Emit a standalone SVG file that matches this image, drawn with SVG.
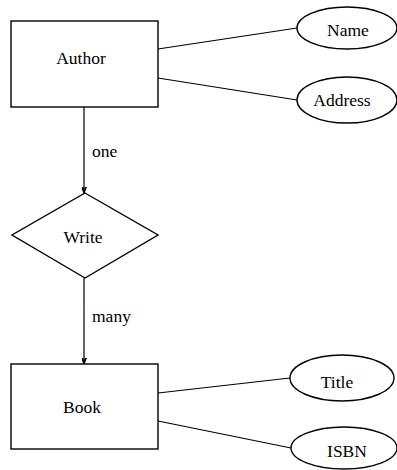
<svg xmlns="http://www.w3.org/2000/svg" width="397" height="470" viewBox="0 0 397 470">
  <style>
    .shape { fill: #fff; stroke: #000; stroke-width: 1.4; }
    .edge { fill: none; stroke: #000; stroke-width: 1.2; }
    text { font-family: "Liberation Serif", "Times New Roman", serif; font-size: 17.5px; fill: #000; }
    .c { text-anchor: middle; }
  </style>
  <defs>
    <marker id="arrow" viewBox="-6 -12 12 14" refX="0" refY="0" markerWidth="12" markerHeight="14" markerUnits="userSpaceOnUse" orient="auto-start-reverse">
      <path d="M-4,-10 L0,0 L4,-10 M0,0 L-1.5,-7 L1.5,-7 Z" fill="#000" stroke="#000" stroke-width="1.1" transform="rotate(-90)"/>
    </marker>
  </defs>
  <rect width="397" height="470" fill="#fff"/>

  <!-- connectors -->
  <g id="connectors">
    <line class="edge" x1="158" y1="49" x2="297" y2="28"/>
    <line class="edge" x1="158" y1="78" x2="297" y2="100"/>
    <line class="edge" x1="84" y1="107" x2="84" y2="193" marker-end="url(#arrow)"/>
    <line class="edge" x1="84" y1="278" x2="84" y2="364" marker-end="url(#arrow)"/>
    <line class="edge" x1="158" y1="393" x2="290" y2="378"/>
    <line class="edge" x1="158" y1="421" x2="291" y2="448"/>
    <text x="92" y="157">one</text>
    <text x="92" y="322">many</text>
  </g>

  <!-- entities -->
  <g id="author">
    <rect class="shape" x="11" y="21" width="147" height="86"/>
    <text class="c" x="81" y="64">Author</text>
  </g>
  <g id="book">
    <rect class="shape" x="11" y="364" width="147" height="85"/>
    <text class="c" x="82" y="413">Book</text>
  </g>

  <!-- relationship -->
  <g id="write">
    <polygon class="shape" points="85,193 158,235 85,278 12,235"/>
    <text class="c" x="83" y="243">Write</text>
  </g>

  <!-- attributes -->
  <g id="name">
    <ellipse class="shape" cx="347" cy="28" rx="50" ry="21"/>
    <text class="c" x="348" y="36">Name</text>
  </g>
  <g id="address">
    <ellipse class="shape" cx="347" cy="100" rx="50" ry="23"/>
    <text class="c" x="342" y="106">Address</text>
  </g>
  <g id="title">
    <ellipse class="shape" cx="342" cy="378" rx="52" ry="23"/>
    <text class="c" x="337" y="388">Title</text>
  </g>
  <g id="isbn">
    <ellipse class="shape" cx="344" cy="448" rx="53" ry="21"/>
    <text class="c" x="347" y="457">ISBN</text>
  </g>
</svg>
